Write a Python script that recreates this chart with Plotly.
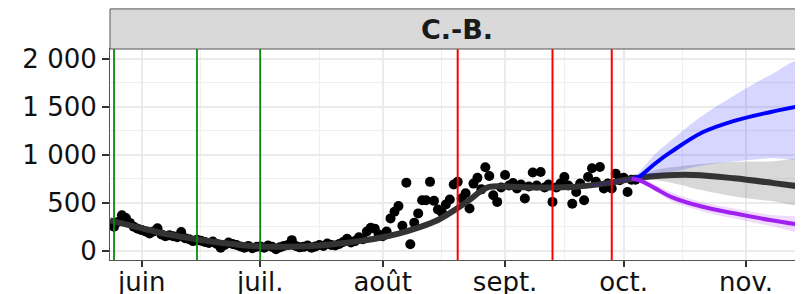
import pandas as pd
import plotly.graph_objects as go

# ---------------- data ----------------
start_date = "2020-05-24"
cases = [
    270, 250, 300, 370, 340, 290, 250, 230,
    215, 200, 180, 200, 235, 170, 150, 160, 150, 140,
    195, 130, 120, 100, 115, 105, 90, 80, 95, 70,
    30, 60, 85, 70, 60, 45, 30, 50, 25, 40,
    45, 30, 55, 40, 15, 35, 50, 60, 110, 50,
    35, 40, 55, 30, 45, 60, 50, 75, 60, 55,
    70, 90, 125, 85, 100, 140, 120, 200, 240, 230,
    170, 150, 200, 337, 406, 465, 260, 710, 67, 291,
    389, 527, 527, 718, 520, 430, 400, 482, 534, 690,
    718, 545, 600, 440, 700, 760, 640, 870, 780, 579,
    509, 660, 790, 680, 705, 650, 690, 545, 670, 815,
    680, 821, 660, 690, 509, 660, 700, 769, 680, 490,
    613, 700, 527, 769, 860, 718, 873, 649, 700, 649,
    804, 735, 760, 613, 740, 740,
]

trend_dates = ["2020-05-24", "2020-05-28", "2020-06-01", "2020-06-06", "2020-06-11",
               "2020-06-16", "2020-06-21", "2020-06-26", "2020-07-01", "2020-07-06",
               "2020-07-11", "2020-07-16", "2020-07-21", "2020-07-26", "2020-07-31",
               "2020-08-05", "2020-08-10", "2020-08-15", "2020-08-20", "2020-08-23",
               "2020-08-26", "2020-08-28", "2020-09-01", "2020-09-09", "2020-09-19",
               "2020-09-27", "2020-10-04", "2020-10-11", "2020-10-19", "2020-10-29",
               "2020-11-08", "2020-11-16"]
trend_vals = [315, 275, 235, 185, 145, 112, 82, 60, 45, 42,
              45, 55, 75, 100, 132, 178, 240, 320, 445, 530,
              625, 665, 670, 660, 668, 705, 755, 785, 790, 755,
              705, 662]

grey_dates = ["2020-09-27", "2020-10-01", "2020-10-04", "2020-10-09", "2020-10-13",
              "2020-10-21", "2020-10-29", "2020-11-07", "2020-11-16"]
grey_hi = [715, 745, 770, 840, 870, 905, 925, 930, 930]
grey_lo = [695, 735, 745, 735, 710, 630, 565, 520, 495]

band_dates = ["2020-09-23", "2020-09-27", "2020-10-01", "2020-10-04", "2020-10-09",
              "2020-10-13", "2020-10-21", "2020-10-29", "2020-11-07", "2020-11-16"]
blue_hi = [690, 715, 745, 790, 1010, 1150, 1410, 1620, 1830, 1990]
blue_lo = [670, 695, 720, 745, 790, 820, 890, 930, 965, 995]
purple_hi = [690, 715, 750, 770, 690, 610, 505, 440, 375, 325]
purple_lo = [670, 695, 720, 730, 620, 520, 410, 335, 260, 200]

fc_dates = ["2020-10-03", "2020-10-05", "2020-10-09", "2020-10-13", "2020-10-21",
            "2020-10-29", "2020-11-07", "2020-11-16"]
blue_line = [745, 775, 910, 1030, 1235, 1355, 1445, 1520]
purple_line = [750, 735, 650, 562, 458, 390, 320, 262]

green_events = ["2020-05-25", "2020-06-15", "2020-07-01"]
red_events = ["2020-08-20", "2020-09-13", "2020-09-28"]

month_ticks = ["2020-06-01", "2020-07-01", "2020-08-01", "2020-09-01", "2020-10-01", "2020-11-01"]
month_labels = ["juin", "juil.", "août", "sept.", "oct.", "nov."]
y_ticks = [0, 500, 1000, 1500, 2000]
panel_title = "C.-B."

# ---------------- figure ----------------
case_dates = pd.date_range(start_date, periods=len(cases), freq="D")

fig = go.Figure()

fig.add_trace(go.Scatter(x=case_dates, y=cases, mode="markers",
                         marker=dict(color="black", size=10), showlegend=False))


def band(dates, hi, lo, color):
    return go.Scatter(x=list(dates) + list(dates)[::-1], y=list(hi) + list(lo)[::-1],
                      fill="toself", fillcolor=color, line=dict(width=0, shape="spline"),
                      mode="lines", showlegend=False, hoverinfo="skip")


fig.add_trace(band(grey_dates, grey_hi, grey_lo, "rgba(153,153,153,0.38)"))
fig.add_trace(go.Scatter(x=trend_dates, y=trend_vals, mode="lines",
                         line=dict(color="#333333", width=6, shape="spline"), showlegend=False))
fig.add_trace(band(band_dates, blue_hi, blue_lo, "rgba(0,0,255,0.16)"))
fig.add_trace(band(band_dates, purple_hi, purple_lo, "rgba(160,32,240,0.16)"))
fig.add_trace(go.Scatter(x=fc_dates, y=blue_line, mode="lines",
                         line=dict(color="#0000FF", width=4, shape="spline"), showlegend=False))
fig.add_trace(go.Scatter(x=fc_dates, y=purple_line, mode="lines",
                         line=dict(color="#A020F0", width=4, shape="spline"), showlegend=False))

shapes = []
for d in green_events:
    shapes.append(dict(type="line", xref="x", yref="paper", x0=d, x1=d, y0=0, y1=1,
                       line=dict(color="#0A8A0A", width=1.8), layer="above"))
for d in red_events:
    shapes.append(dict(type="line", xref="x", yref="paper", x0=d, x1=d, y0=0, y1=1,
                       line=dict(color="#FF0000", width=2), layer="above"))
# facet strip
shapes.append(dict(type="rect", xref="paper", yref="paper", x0=0, x1=1.01, y0=1.0, y1=1.19,
                   fillcolor="#D9D9D9", line=dict(color="#555555", width=1), layer="above"))

# the page body has an 8px margin: the figure is sized to fill the rest of the window
fig.update_layout(
    width=795, height=286, autosize=False,
    margin=dict(l=102, r=0, t=41, b=34, pad=0),
    paper_bgcolor="white", plot_bgcolor="white",
    separators=", ",
    shapes=shapes,
    font=dict(family="DejaVu Sans", color="#111111"),
    annotations=[dict(text="<b>" + panel_title + "</b>", xref="paper", yref="paper",
                      x=0.5, y=1.093, xanchor="center", yanchor="middle", showarrow=False,
                      font=dict(size=27, family="DejaVu Sans", color="#1a1a1a"))],
)

fig.update_xaxes(
    type="date", range=["2020-05-23 23:30", "2020-11-15 10:00"], automargin=False,
    tickvals=month_ticks, ticktext=month_labels, ticklabelstandoff=-7,
    tickfont=dict(size=26, family="DejaVu Sans", color="#111111"),
    ticks="outside", ticklen=6, tickwidth=1.5, tickcolor="#333333",
    showgrid=True, gridcolor="#EBEBEB", gridwidth=1.5,
    minor=dict(dtick="M1", tick0="2020-06-16", showgrid=True, gridcolor="#EFEFEF", gridwidth=0.8, ticks=""),
    showline=True, linecolor="#555555", linewidth=1, mirror=True, zeroline=False,
)
fig.update_yaxes(
    range=[-97, 2104], tickvals=y_ticks, separatethousands=True, tickformat=",d", automargin=False,
    tickfont=dict(size=26, family="DejaVu Sans", color="#111111"),
    ticks="outside", ticklen=7, tickwidth=1.5, tickcolor="#333333",
    showgrid=True, gridcolor="#EBEBEB", gridwidth=1.5,
    minor=dict(dtick=250, showgrid=True, gridcolor="#EFEFEF", gridwidth=0.8, ticks=""),
    showline=True, linecolor="#555555", linewidth=1, mirror=True, zeroline=False,
)

fig.write_html("out.html")
